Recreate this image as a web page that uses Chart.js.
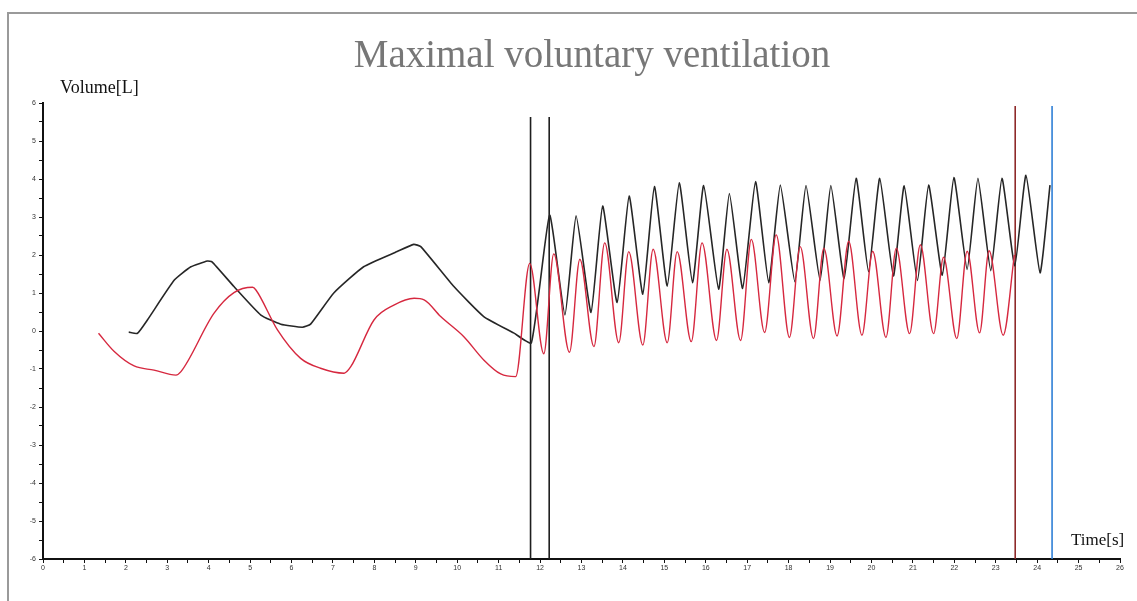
<!DOCTYPE html>
<html>
<head>
<meta charset="utf-8">
<title>Maximal voluntary ventilation</title>
<script src="https://cdn.jsdelivr.net/npm/chart.js@4/dist/chart.umd.min.js"></script>
<style>
  html, body { margin: 0; padding: 0; background: #fff; }
  canvas { display: block; }
</style>
</head>
<body>
<canvas id="chart" width="1137" height="601"></canvas>
<script>
// volume traces, time in s, volume in L
var blackTime = [2.07, 2.28, 2.52, 3.17, 3.57, 3.97, 4.08, 4.61, 5.26, 5.74, 6.26, 6.46, 7.02, 7.74, 8.55, 8.95, 9.12, 9.92, 10.64, 11.36, 11.79,
    12.23, 12.6, 12.87, 13.23, 13.51, 13.86, 14.15, 14.48, 14.76, 15.07, 15.36, 15.68, 15.95, 16.31, 16.57, 16.89, 17.2, 17.52, 17.8, 18.15,
    18.42, 18.76, 19.02, 19.34, 19.63, 19.93, 20.2, 20.53, 20.79, 21.11, 21.38, 21.71, 21.99, 22.31, 22.57, 22.88, 23.15, 23.46, 23.73, 24.07, 24.31];
var blackVolume = [-0.03, -0.06, 0.29, 1.34, 1.69, 1.84, 1.82, 1.17, 0.42, 0.18, 0.1, 0.18, 1.0, 1.69, 2.09, 2.28, 2.22, 1.17, 0.38, -0.05, -0.31,
    3.05, 0.42, 3.03, 0.49, 3.29, 0.75, 3.55, 0.97, 3.8, 1.18, 3.9, 1.27, 3.83, 1.1, 3.62, 1.12, 3.93, 1.27, 3.84, 1.3,
    3.83, 1.33, 3.83, 1.38, 4.02, 1.56, 4.02, 1.45, 3.82, 1.33, 3.84, 1.47, 4.04, 1.62, 4.02, 1.59, 4.02, 1.71, 4.1, 1.53, 3.84];

var redTime = [1.34, 1.72, 2.2, 2.68, 3.21, 3.33, 4.13, 4.61, 5.06, 5.14, 5.66, 6.22, 6.7, 7.27, 7.43, 7.99, 8.47, 8.96, 9.2, 9.6, 10.16, 10.64, 11.05, 11.41,
    11.75, 12.09, 12.33, 12.71, 12.96, 13.3, 13.56, 13.9, 14.14, 14.48, 14.73, 15.07, 15.31, 15.65, 15.91, 16.26, 16.51, 16.84, 17.1, 17.42, 17.7, 18.02,
    18.28, 18.6, 18.85, 19.17, 19.45, 19.77, 20.03, 20.35, 20.6, 20.92, 21.18, 21.5, 21.74, 22.06, 22.31, 22.61, 22.84, 23.18, 23.45];
var redVolume = [-0.06, -0.54, -0.92, -1.03, -1.16, -1.07, 0.47, 1.01, 1.15, 1.08, 0.03, -0.72, -0.98, -1.11, -0.94, 0.29, 0.68, 0.86, 0.82, 0.38, -0.15, -0.76, -1.13, -1.2,
    1.78, -0.6, 2.03, -0.56, 1.89, -0.41, 2.32, -0.31, 2.09, -0.37, 2.15, -0.31, 2.09, -0.28, 2.32, -0.25, 2.15, -0.25, 2.41, -0.04, 2.53, -0.17,
    2.22, -0.2, 2.18, -0.13, 2.36, -0.11, 2.1, -0.17, 2.18, -0.07, 2.27, -0.07, 1.94, -0.2, 2.1, -0.05, 2.11, -0.11, 2.0];

// vertical markers
var markerTime = [11.77, 12.22, 23.47, 24.36];
var markerTop = [5.63, 5.63, 5.92, 5.92];

var markerColors = ['#1e1e1e', '#1e1e1e', '#8e2a2a', '#2f7fd6'];

function points(xs, ys){
    var out = [];
    for(var i = 0; i < xs.length; i++){
        out.push({x: xs[i], y: ys[i]});
    }
    return out;
}

var datasets = [];
datasets.push({
    data: points(redTime, redVolume),
    borderColor: '#d6283f',
    borderWidth: 1.4,
    cubicInterpolationMode: 'monotone',
    pointRadius: 0
});
datasets.push({
    data: points(blackTime, blackVolume),
    borderColor: '#262626',
    borderWidth: 1.6,
    tension: 0.15,
    pointRadius: 0
});
for(var k = 0; k < markerTime.length; k++){
    datasets.push({
        data: [{x: markerTime[k], y: -6}, {x: markerTime[k], y: markerTop[k]}],
        borderColor: markerColors[k],
        borderWidth: 1.6,
        pointRadius: 0
    });
}

// frame, title and axis names
var decor = {
    id: 'decor',
    beforeDraw: function(chart){
        var ctx = chart.ctx;
        ctx.save();
        ctx.fillStyle = '#fff';
        ctx.fillRect(0, 0, chart.width, chart.height);
        ctx.strokeStyle = '#9a9a9a';
        ctx.lineWidth = 2;
        ctx.beginPath();
        ctx.moveTo(8, chart.height);
        ctx.lineTo(8, 13);
        ctx.lineTo(chart.width, 13);
        ctx.stroke();
        ctx.restore();
    },
    afterDraw: function(chart){
        var ctx = chart.ctx;
        ctx.save();
        ctx.textBaseline = 'middle';
        ctx.textAlign = 'center';
        ctx.fillStyle = '#777';
        ctx.font = '39px "Liberation Serif"';
        ctx.fillText('Maximal voluntary ventilation', 592, 57);
        ctx.fillStyle = '#111';
        ctx.textAlign = 'left';
        ctx.font = '18px "Liberation Serif"';
        ctx.fillText('Volume[L]', 60, 88);
        ctx.font = '17px "Liberation Serif"';
        ctx.fillText('Time[s]', 1071, 541);
        ctx.restore();
    }
};

var tickFont = {family: 'Liberation Sans', size: 7};

new Chart(document.getElementById('chart').getContext('2d'), {
    type: 'line',
    data: {datasets: datasets},
    plugins: [decor],
    options: {
        responsive: false,
        animation: false,
        devicePixelRatio: 1,
        layout: {padding: {left: 0, right: 17, top: 103, bottom: 0}},
        plugins: {
            legend: {display: false},
            tooltip: {enabled: false},
            title: {display: false}
        },
        scales: {
            x: {
                type: 'linear',
                min: 0,
                max: 26,
                afterFit: function(axis){ axis.height = 42; },
                border: {color: '#111', width: 2},
                grid: {drawOnChartArea: false, drawTicks: true, tickLength: 4, color: '#111'},
                ticks: {
                    stepSize: 0.5,
                    autoSkip: false,
                    maxRotation: 0,
                    padding: 1,
                    color: '#333',
                    font: tickFont,
                    callback: function(v){ return Number.isInteger(v) ? String(v) : ''; }
                }
            },
            y: {
                type: 'linear',
                min: -6,
                max: 6,
                afterFit: function(axis){ axis.width = 43; },
                border: {color: '#111', width: 2},
                grid: {drawOnChartArea: false, drawTicks: true, tickLength: 4, color: '#111'},
                ticks: {
                    stepSize: 0.5,
                    autoSkip: false,
                    padding: 3,
                    color: '#333',
                    font: tickFont,
                    callback: function(v){ return Number.isInteger(v) ? String(v) : ''; }
                }
            }
        }
    }
});
</script>
</body>
</html>
